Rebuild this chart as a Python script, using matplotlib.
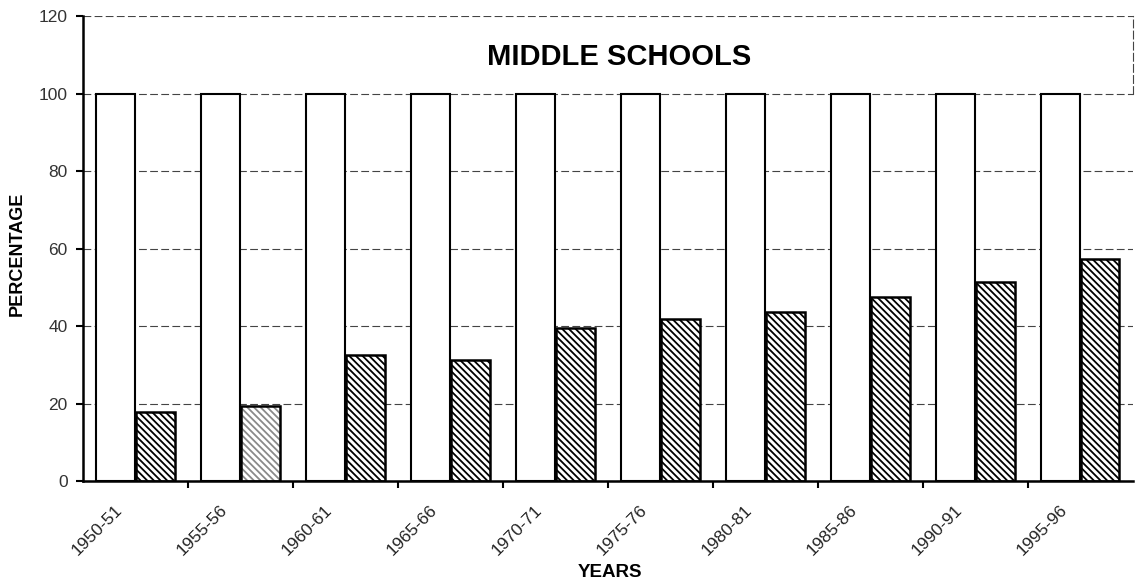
import numpy as np
import matplotlib
matplotlib.use("Agg")
import matplotlib.pyplot as plt

plt.rcParams["font.family"] = ["Liberation Sans", "DejaVu Sans"]
plt.rcParams["hatch.linewidth"] = 1.3

# Data
years = ["1950-51", "1955-56", "1960-61", "1965-66", "1970-71",
         "1975-76", "1980-81", "1985-86", "1990-91", "1995-96"]
base = [100, 100, 100, 100, 100, 100, 100, 100, 100, 100]
share = [18.0, 19.4, 32.7, 31.3, 39.6, 41.8, 43.6, 47.5, 51.5, 57.5]
yticks = [0, 20, 40, 60, 80, 100, 120]


def main():
    fig = plt.figure(figsize=(11.36, 5.85), dpi=100)
    ax = fig.add_axes([0.073, 0.177, 0.924, 0.795])

    n = len(years)
    centers = np.arange(n) + 0.5
    width = 0.37

    ax.bar(centers - 0.19, base, width, color="white", edgecolor="black",
           linewidth=1.5, zorder=2)

    # hatched bars; the second one is faded in the scan
    hatch_colors = ["black"] * n
    hatch_colors[1] = "#8a8a8a"
    ax.bar(centers + 0.19, share, width, color="white", edgecolor=hatch_colors,
           hatch="\\" * 5, linewidth=0, zorder=2)
    ax.bar(centers + 0.19, share, width, fill=False, edgecolor="black",
           linewidth=1.8, zorder=3)

    ax.set_xlim(0, n)
    ax.set_ylim(0, 120)

    # gridlines (dashed, as in the scan)
    ax.set_yticks(yticks)
    ax.set_yticklabels([str(v) for v in yticks], fontsize=12.5, color="#333333")
    ax.yaxis.grid(True, linestyle=(0, (7, 3)), color="#444444", linewidth=0.8)
    ax.set_axisbelow(True)
    ax.tick_params(axis="y", length=5, width=1.5, pad=6, direction="out")

    # labels under each group, tick marks on the group boundaries
    ax.set_xticks(centers - 0.15)
    ax.set_xticklabels(years, rotation=45, ha="right", va="center",
                       rotation_mode="anchor", fontsize=12.5, color="#222222")
    ax.tick_params(axis="x", which="major", length=0, pad=19)
    ax.set_xticks(np.arange(1, n), minor=True)
    ax.tick_params(axis="x", which="minor", length=5, width=1.5,
                   direction="out")

    for side in ("left", "bottom"):
        ax.spines[side].set_linewidth(1.8)
    ax.spines["top"].set_visible(False)
    ax.spines["right"].set_linestyle((0, (7, 3)))
    ax.spines["right"].set_linewidth(0.8)
    ax.spines["right"].set_color("#444444")
    ax.spines["right"].set_bounds(100, 120)

    ax.text(0.511, 0.913, "MIDDLE SCHOOLS", transform=ax.transAxes,
            ha="center", va="center", fontsize=21, fontweight="bold")
    ax.text(-0.063, 0.49, "PERCENTAGE", transform=ax.transAxes, rotation=90,
            ha="center", va="center", fontsize=13, fontweight="bold")
    ax.text(0.502, -0.195, "YEARS", transform=ax.transAxes,
            ha="center", va="center", fontsize=13.5, fontweight="bold")

    fig.savefig("out.png", dpi=100)


if __name__ == "__main__":
    main()
